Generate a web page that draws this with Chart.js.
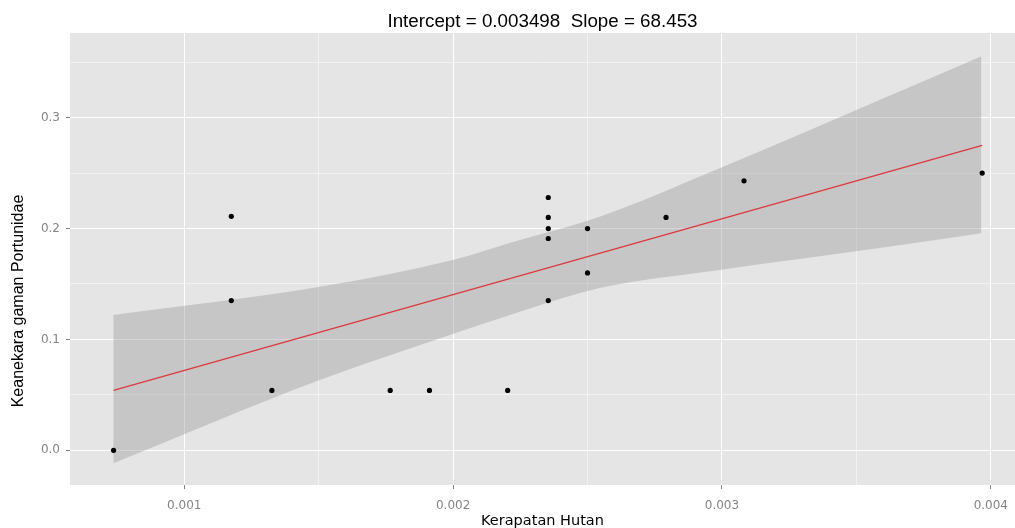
<!DOCTYPE html>
<html lang="id">
<head>
<meta charset="UTF-8">
<title>Kerapatan Hutan vs Keanekaragaman Portunidae</title>
<script src="https://cdn.jsdelivr.net/npm/chart.js"></script>
<style>
  body { margin: 0; background: #fff; }
</style>
</head>
<body>
<canvas id="chartCanvas" width="1015" height="528"></canvas>
<script>
// titik pengamatan
const forestX = [0.000737, 0.001175, 0.001175, 0.001326, 0.001766, 0.001912, 0.002203,
                 0.002354, 0.002354, 0.002354, 0.002354, 0.002354, 0.002500, 0.002500,
                 0.002792, 0.003082, 0.003968];
const diversityY = [0.000, 0.211, 0.135, 0.054, 0.054, 0.054, 0.054,
                    0.228, 0.210, 0.200, 0.191, 0.135, 0.200, 0.160,
                    0.210, 0.243, 0.250];

// garis regresi
const fitX = [0.000737, 0.003968];
const fitY = [0.054, 0.275];

// pita kepercayaan
const bandX     = [0.000736, 0.001504, 0.001999, 0.002248, 0.002545, 0.002991, 0.003586, 0.003965];
const bandUpper = [0.1220, 0.1475, 0.1716, 0.1896, 0.2106, 0.2543, 0.3159, 0.3555];
const bandLower = [-0.0117, 0.0634, 0.1049, 0.1250, 0.1463, 0.1626, 0.1824, 0.1957];

// sumbu
const xMajor = [0.001, 0.002, 0.003, 0.004];
const xMinor = [0.0015, 0.0025, 0.0035];
const xLabels = ['0.001', '0.002', '0.003', '0.004'];
const yMajor = [0, 0.1, 0.2, 0.3];
const yMinor = [0.05, 0.15, 0.25, 0.35];
const yLabels = ['0.0', '0.1', '0.2', '0.3'];

const tickFont = { family: '"DejaVu Sans", Verdana, sans-serif', size: 12 };
const tickGrey = '#858585';

function toPoints(xs, ys) {
    return xs.map((x, i) => ({ x: x, y: ys[i] }));
}

function buildTicks(major, minor, labels) {
    const ticks = major.map((v, i) => ({ value: v, text: labels[i], minor: false }))
        .concat(minor.map(v => ({ value: v, text: '', minor: true })));
    return ticks.sort((a, b) => a.value - b.value);
}

// panel abu-abu + judul sumbu y
const panelPlugin = {
    id: 'panel',
    beforeDraw(chart) {
        const a = chart.chartArea;
        const ctx = chart.ctx;
        ctx.save();
        ctx.fillStyle = '#e5e5e5';
        ctx.fillRect(a.left, a.top, a.right - a.left, a.bottom - a.top);
        ctx.restore();
    },
    afterDraw(chart) {
        const ctx = chart.ctx;
        ctx.save();
        ctx.translate(19, 301);
        ctx.rotate(-Math.PI / 2);
        ctx.font = '16px "Liberation Sans", Arial, sans-serif';
        ctx.fillStyle = '#000';
        ctx.textAlign = 'center';
        ctx.textBaseline = 'middle';
        ctx.fillText('Keanekara gaman Portunidae', 0, 0);
        ctx.restore();
    }
};

const gridColor = ctx => (ctx.tick && ctx.tick.minor) ? '#f2f2f2' : '#ffffff';
const tickMarkColor = ctx => (ctx.tick && ctx.tick.minor) ? 'rgba(0,0,0,0)' : tickGrey;

const ctx = document.getElementById('chartCanvas').getContext('2d');
new Chart(ctx, {
    type: 'scatter',
    data: {
        datasets: [{
            label: 'Pengamatan',
            data: toPoints(forestX, diversityY),
            backgroundColor: '#000',
            borderWidth: 0,
            pointRadius: 2.6,
            pointHoverRadius: 0
        }, {
            type: 'line',
            label: 'Regresi',
            data: toPoints(fitX, fitY),
            borderColor: '#dc3a3e',
            borderWidth: 1.4,
            pointRadius: 0,
            fill: false
        }, {
            type: 'line',
            label: 'Batas atas',
            data: toPoints(bandX, bandUpper),
            borderColor: 'transparent',
            borderWidth: 0,
            pointRadius: 0,
            cubicInterpolationMode: 'monotone',
            fill: '+1',
            backgroundColor: 'rgba(153,153,153,0.4)'
        }, {
            type: 'line',
            label: 'Batas bawah',
            data: toPoints(bandX, bandLower),
            borderColor: 'transparent',
            borderWidth: 0,
            pointRadius: 0,
            cubicInterpolationMode: 'monotone',
            fill: false
        }]
    },
    options: {
        responsive: false,
        animation: false,
        layout: { autoPadding: false, padding: 0 },
        plugins: {
            legend: { display: false },
            tooltip: { enabled: false },
            title: {
                display: true,
                text: 'Intercept = 0.003498  Slope = 68.453',
                fullSize: false,
                color: '#000',
                font: { family: '"Liberation Sans", Arial, sans-serif', size: 18.8, weight: 'normal' },
                padding: { top: 10.4, bottom: 0 }
            }
        },
        scales: {
            x: {
                type: 'linear',
                min: 0.000575,
                max: 0.00409,
                afterBuildTicks(scale) { scale.ticks = buildTicks(xMajor, xMinor, xLabels); },
                afterFit(scale) {
                    scale.height = 43;
                    scale.paddingLeft = 0;
                    scale.paddingRight = 0;
                },
                ticks: {
                    autoSkip: false,
                    maxRotation: 0,
                    padding: 10,
                    color: tickGrey,
                    font: tickFont,
                    callback: (v, i, t) => t[i].text
                },
                grid: { color: gridColor, tickColor: tickMarkColor, tickLength: 4, lineWidth: 1 },
                border: { display: false },
                title: {
                    display: true,
                    text: 'Kerapatan Hutan',
                    color: '#000',
                    font: { family: '"DejaVu Sans", Verdana, sans-serif', size: 14.5, lineHeight: 0.9 },
                    padding: { top: 0, bottom: 0 }
                }
            },
            y: {
                type: 'linear',
                min: -0.0313,
                max: 0.3764,
                afterBuildTicks(scale) { scale.ticks = buildTicks(yMajor, yMinor, yLabels); },
                afterFit(scale) {
                    scale.width = 70;
                    scale.paddingTop = 0;
                    scale.paddingBottom = 0;
                },
                ticks: {
                    autoSkip: false,
                    padding: 6,
                    color: tickGrey,
                    font: tickFont,
                    callback: (v, i, t) => t[i].text
                },
                grid: { color: gridColor, tickColor: tickMarkColor, tickLength: 4, lineWidth: 1 },
                border: { display: false }
            }
        }
    },
    plugins: [panelPlugin]
});
</script>
</body>
</html>
